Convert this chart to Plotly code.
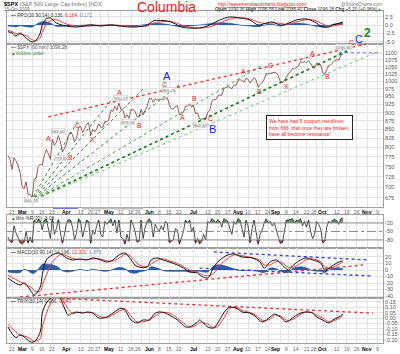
import plotly.graph_objects as go
import pandas as pd

# ---------------- trading calendar ----------------
HOLIDAYS = ['2009-04-10', '2009-05-25', '2009-07-03', '2009-09-07']
cal = [d.strftime('%Y-%m-%d') for d in pd.bdate_range('2009-02-19', '2009-11-13')
       if d.strftime('%Y-%m-%d') not in HOLIDAYS]
POS = {d: i - 2 for i, d in enumerate(cal)}


def xs(dates):
    return [POS[d] for d in dates]


# ---------------- data ----------------
price_close = [
    778.94, 770.05, 743.33, 773.14, 764.90, 752.83, 735.09,
    700.82, 696.33, 712.87, 682.55, 683.38, 676.53, 719.60, 721.36, 750.74, 756.55, 753.89, 778.12, 794.35,
    784.04, 768.54, 822.92, 806.12, 813.88, 832.86, 815.94, 787.53, 797.87,
    811.08, 834.38, 842.50, 835.48, 815.55, 825.16, 856.56, 858.73, 841.50, 852.06, 865.30, 869.60, 832.39,
    850.08, 843.55, 851.92, 866.23, 857.51, 855.16, 873.64, 872.81,
    877.52, 907.24, 903.80, 919.53, 907.39, 929.23, 909.24, 908.35, 883.92, 893.07, 882.88, 909.71, 908.13,
    903.47, 888.33, 887.00, 910.33, 893.06, 906.83, 919.14,
    942.87, 944.74, 931.76, 942.46, 940.09, 939.14, 942.43, 939.15, 944.89, 946.21, 923.72, 911.97, 910.71,
    918.37, 921.23, 893.04, 895.10, 900.94, 920.26, 918.90, 927.23, 919.32,
    923.33, 896.42, 898.72, 881.03, 879.56, 882.68, 879.13, 901.05, 905.84, 932.68, 940.74, 940.38, 951.13,
    954.58, 954.07, 976.29, 979.26, 982.18, 979.62, 975.15, 986.75, 987.48,
    1002.63, 1005.65, 1002.72, 997.08, 1010.48, 1007.10, 994.35, 1005.81, 1012.73, 1004.09, 979.73, 989.67,
    996.46, 1007.37, 1026.13, 1025.57, 1028.00, 1028.12, 1030.98, 1028.93, 1020.62,
    998.04, 994.75, 1003.24, 1016.40, 1025.39, 1033.37, 1044.14, 1042.73, 1049.34, 1052.63, 1068.76, 1065.49,
    1068.30, 1064.66, 1071.66, 1060.87, 1050.78, 1044.38, 1062.98, 1060.61, 1057.08,
    1029.85, 1025.21, 1040.46, 1054.72, 1057.58, 1065.48, 1071.49, 1076.19, 1073.19, 1092.02, 1096.28,
]

wm_r = [
    -70, -85, -90, -30, -55, -75, -90,
    -95, -88, -50, -92, -70, -90, -10, -20, -8, -12, -45, -10, -5, -40, -75, -5, -60, -40, -8, -55, -92, -60,
    -20, -8, -10, -35, -80, -55, -5, -15, -70, -40, -10, -15, -92, -45, -60, -30, -10, -60, -70, -15, -25,
    -15, -5, -30, -10, -55, -10, -70, -75, -95, -60, -85, -10, -25, -50, -88, -85, -10, -75, -35, -15,
    -5, -15, -70, -25, -40, -50, -30, -45, -15, -20, -90, -85, -80, -40, -45, -95, -75, -50, -10, -20, -10, -50,
    -35, -92, -75, -95, -85, -60, -80, -15, -20, -5, -10, -20, -8, -15, -35, -5, -10, -15, -40, -60, -15, -25,
    -5, -10, -40, -70, -10, -30, -90, -40, -10, -55, -95, -60, -45, -20, -5, -20, -15, -30, -20, -45, -70,
    -92, -90, -45, -10, -10, -8, -5, -20, -10, -12, -5, -30, -15, -35, -10, -50, -75, -60, -15, -25, -40,
    -90, -85, -35, -15, -20, -10, -8, -12, -25, -5, -3,
]

ppo_dates = ['2009-02-19', '2009-02-23', '2009-02-25', '2009-02-27', '2009-03-04', '2009-03-09', '2009-03-11',
             '2009-03-13', '2009-03-16', '2009-03-18', '2009-03-20', '2009-03-25', '2009-04-01', '2009-04-08',
             '2009-04-20', '2009-04-27', '2009-05-04', '2009-05-08', '2009-05-20', '2009-05-29', '2009-06-03',
             '2009-06-12', '2009-06-17', '2009-06-23', '2009-06-29', '2009-07-07', '2009-07-14', '2009-07-21',
             '2009-07-28', '2009-08-04', '2009-08-11', '2009-08-17', '2009-08-21', '2009-08-26', '2009-09-01',
             '2009-09-04', '2009-09-14', '2009-09-21', '2009-09-25', '2009-10-01', '2009-10-06', '2009-10-08',
             '2009-10-15']
ppo_line = [-2.0, -2.4, -3.3, -2.4, -3.9, -5.1, -4.5, -2.4, 0.0, 1.8, 2.1, 0.6, -0.3, -0.6, 0.0, -0.3, 0.0,
            -0.3, -0.6, 0.0, 1.2, 1.2, 0.6, -0.6, -0.9, -0.9, 0.0, 1.5, 2.4, 2.1, 1.5, 0.0, 0.6, 0.9, 0.0, 0.3,
            1.5, 1.8, 0.9, -0.6, -0.6, 0.0, 0.9]
ppo_signal = [-1.5, -2.0, -2.6, -2.8, -3.2, -4.4, -4.7, -3.9, -2.2, 0.2, 1.3, 1.6, 0.3, -0.3, -0.3, -0.1, -0.1,
              -0.1, -0.4, -0.3, 0.5, 1.1, 0.9, 0.0, -0.6, -0.9, -0.6, 0.6, 1.8, 2.2, 1.8, 0.9, 0.4, 0.6, 0.5,
              0.2, 0.9, 1.6, 1.4, 0.3, -0.4, -0.3, 0.3]
ppo_hist = [-0.3, -0.4, -0.6, -0.2, -0.5, -0.6, 0.2, 0.8, 1.0, 1.0, 0.6, -0.4, -0.3, -0.2, 0.1, -0.1, 0.1, -0.1,
            -0.2, 0.2, 0.5, 0.2, -0.2, -0.5, -0.3, 0.0, 0.4, 0.7, 0.5, 0.0, -0.3, -0.5, 0.1, 0.2, -0.3, 0.1,
            0.5, 0.3, -0.3, -0.6, -0.2, 0.2, 0.5]

macd_dates = ['2009-02-19', '2009-02-27', '2009-03-03', '2009-03-09', '2009-03-10', '2009-03-13', '2009-03-16',
              '2009-03-18', '2009-03-23', '2009-03-26', '2009-03-30', '2009-04-01', '2009-04-06', '2009-04-13',
              '2009-04-16', '2009-04-21', '2009-04-27', '2009-04-30', '2009-05-05', '2009-05-08', '2009-05-13',
              '2009-05-15', '2009-05-20', '2009-05-22', '2009-05-29', '2009-06-02', '2009-06-05', '2009-06-10',
              '2009-06-15', '2009-06-19', '2009-06-24', '2009-06-29', '2009-07-06', '2009-07-07', '2009-07-13',
              '2009-07-16', '2009-07-21', '2009-07-27', '2009-07-30', '2009-08-05', '2009-08-12', '2009-08-18',
              '2009-08-20', '2009-08-25', '2009-08-28', '2009-09-02', '2009-09-08', '2009-09-10', '2009-09-16',
              '2009-09-21', '2009-09-24', '2009-09-30', '2009-10-02', '2009-10-07', '2009-10-12', '2009-10-15']
macd_line = [-12.3, -23, -20, -35, -38.5, -26, -7.7, 15.4, 23, 26, 23, 18.5, 15.4, 17, 15.4, 18.5, 15.4, 12.3,
             15.4, 23, 26, 20, 7.7, 4.6, 4.6, 15.4, 18.5, 15.4, 12.3, 7.7, 3, -3, -4.6, -7.7, -12.3, 4.6, 15.4,
             23, 24.6, 20, 18.5, 12.3, 3, 12.3, 15.4, 7.7, 0, 6.2, 15.4, 18.5, 15.4, 10.8, 0, 4.6, 10.8, 14.2]
macd_signal = [-8, -18, -21, -28, -32, -33, -24, -8, 12, 22, 24, 22, 18, 16, 16, 17, 17, 14, 14, 18, 24, 23, 14,
               8, 5, 9, 15, 17, 14, 10, 5, 0, -3, -5, -9, -5, 7, 18, 23, 22, 19, 15, 8, 8, 13, 11, 4, 4, 10, 16,
               17, 13, 5, 3, 7, 12.3]
macd_hist = [-3, -4, 1, -5, -5, 5, 9, 9, 8, 4, -1, -3, -2, 1, -1, 1, -1, -2, 1, 4, 2, -3, -5, -3, 0, 5, 3, -1,
             -2, -2, -2, -3, -2, -2, -3, 6, 8, 5, 2, -1, 0, -3, -4, 3, 2, -3, -4, 2, 5, 3, -1, -2, -4, 2, 3, 1.9]

trix_dates = ['2009-02-19', '2009-02-25', '2009-02-27', '2009-03-03', '2009-03-06', '2009-03-10', '2009-03-13',
              '2009-03-16', '2009-03-18', '2009-03-20', '2009-03-24', '2009-03-27', '2009-03-30', '2009-04-02',
              '2009-04-06', '2009-04-08', '2009-04-14', '2009-04-16', '2009-04-21', '2009-04-24', '2009-04-30',
              '2009-05-05', '2009-05-11', '2009-05-13', '2009-05-18', '2009-05-21', '2009-05-27', '2009-06-01',
              '2009-06-04', '2009-06-09', '2009-06-15', '2009-06-19', '2009-06-25', '2009-06-29', '2009-07-06',
              '2009-07-07', '2009-07-13', '2009-07-16', '2009-07-20', '2009-07-24', '2009-07-28', '2009-08-03',
              '2009-08-05', '2009-08-11', '2009-08-14', '2009-08-19', '2009-08-25', '2009-08-27', '2009-09-01',
              '2009-09-04', '2009-09-10', '2009-09-15', '2009-09-18', '2009-09-24', '2009-09-28', '2009-10-01',
              '2009-10-06', '2009-10-08', '2009-10-13', '2009-10-15']
trix_line = [-0.082, -0.18, -0.155, -0.173, -0.218, -0.218, -0.127, 0.045, 0.136, 0.18,
             0.2, 0.18, 0.136, 0.027, 0.045, 0.055, 0.045, 0.055, 0.045, 0.0,
             0.009, 0.045, 0.09, 0.073, -0.018, -0.045, -0.018, -0.018, 0.045, 0.055,
             0.027, -0.018, -0.082, -0.082, -0.036, -0.018, -0.082, -0.091, -0.045, 0.073,
             0.1, 0.082, 0.055, 0.045, 0.009, -0.036, 0.009, 0.036, 0.009, -0.036,
             0.0, 0.036, 0.055, 0.045, 0.009, -0.018, -0.045, -0.018, 0.009, 0.036]
trix_signal = [-0.06, -0.13, -0.16, -0.165, -0.19, -0.215, -0.19, -0.09, 0.04, 0.13,
               0.19, 0.195, 0.165, 0.08, 0.04, 0.05, 0.052, 0.05, 0.05, 0.02,
               0.004, 0.03, 0.07, 0.085, 0.02, -0.035, -0.035, -0.02, 0.02, 0.05,
               0.045, 0.0, -0.06, -0.085, -0.06, -0.04, -0.055, -0.09, -0.075, 0.03,
               0.09, 0.095, 0.07, 0.05, 0.025, -0.02, -0.01, 0.025, 0.02, -0.02,
               -0.015, 0.02, 0.05, 0.05, 0.025, 0.0, -0.035, -0.03, -0.005, 0.02]

# trendlines (date, value) pairs
fan_start = ('2009-03-06', 666.79)
fan_end_dates = ['2009-04-09', '2009-05-05', '2009-05-27', '2009-06-23', '2009-08-19', '2009-10-20', '2009-11-09']
fan_end_prices = [878, 945, 974, 994, 1056, 1111, 1104]
red_trend = [('2009-03-19', 887), ('2009-11-04', 1138)]
blue_level = [('2009-10-13', 1101), ('2009-11-10', 1101)]
macd_red_trend = [('2009-02-27', -41.5), ('2009-10-29', 7.7)]
macd_blue_top = [('2009-07-16', 27.7), ('2009-11-03', 15.4)]
macd_blue_low = [('2009-07-07', 3.0), ('2009-11-04', -9.2)]
trix_red_trend = [('2009-03-27', 0.18), ('2009-11-05', 0.045)]

tick_dates = ['2009-02-23', '2009-03-02', '2009-03-09', '2009-03-16', '2009-03-23', '2009-04-01', '2009-04-13',
              '2009-04-20', '2009-04-27', '2009-05-01', '2009-05-11', '2009-05-18', '2009-05-26', '2009-06-01',
              '2009-06-08', '2009-06-15', '2009-06-22', '2009-07-01', '2009-07-13', '2009-07-20', '2009-07-27',
              '2009-08-03', '2009-08-10', '2009-08-17', '2009-08-24', '2009-09-01', '2009-09-08', '2009-09-14',
              '2009-09-21', '2009-09-28', '2009-10-01', '2009-10-12', '2009-10-19', '2009-10-26', '2009-11-02',
              '2009-11-09']
tick_labels = ['23', 'Mar', '9', '16', '23', 'Apr', '13', '20', '27', 'May', '11', '18', '26', 'Jun', '8', '15',
               '22', 'Jul', '13', '20', '27', 'Aug', '10', '17', '24', 'Sep', '8', '14', '21', '28', 'Oct', '12',
               '19', '26', 'Nov', '9']
price_ticks = [675, 700, 725, 750, 775, 800, 825, 850, 875, 900, 925, 950, 975, 1000, 1025, 1050, 1075, 1100]

# ---------------- figure ----------------
W, H = 400, 354
FONT = 'Liberation Sans, Arial, sans-serif'


def P(px, py):
    return px / W, 1 - py / H


XD = [7 / W, 383 / W]


def dom(top, bot):
    return [1 - bot / H, 1 - top / H]


fig = go.Figure()

# PPO panel
px_ = xs(ppo_dates)
fig.add_trace(go.Scatter(x=px_, y=ppo_hist, mode='lines', fill='tozeroy', line=dict(color='#1d4f94', width=0.6, shape='spline'),
                         fillcolor='#2b5fa8', xaxis='x', yaxis='y'))
fig.add_trace(go.Scatter(x=px_, y=ppo_signal, mode='lines', line=dict(color='#f03c3c', width=1, shape='spline'), xaxis='x', yaxis='y'))
fig.add_trace(go.Scatter(x=px_, y=ppo_line, mode='lines', line=dict(color='#111', width=1, shape='spline'), xaxis='x', yaxis='y'))

# Price panel
price_dates = cal[:len(price_close)]
fan_styles = [('#2e8b2e', 1), ('#2e8b2e', 1), ('#2e8b2e', 1), ('#2e8b2e', 1), ('#4fa84f', 1),
              ('#137a13', 1.6), ('#8fcf8f', 1.2)]
for d, p, (c, w) in zip(fan_end_dates, fan_end_prices, fan_styles):
    fig.add_trace(go.Scatter(x=xs([fan_start[0], d]), y=[fan_start[1], p], mode='lines',
                             line=dict(color=c, width=w, dash='dot'), xaxis='x2', yaxis='y2'))
fig.add_trace(go.Scatter(x=xs([d for d, _ in red_trend]), y=[v for _, v in red_trend], mode='lines',
                         line=dict(color='#f03030', width=1.3, dash='dot'), xaxis='x2', yaxis='y2'))
fig.add_trace(go.Scatter(x=xs([d for d, _ in blue_level]), y=[v for _, v in blue_level], mode='lines',
                         line=dict(color='#5b6fd6', width=1, dash='dot'), xaxis='x2', yaxis='y2'))
fig.add_trace(go.Scatter(x=xs(price_dates), y=price_close, mode='lines',
                         line=dict(color='#7a3535', width=0.8), xaxis='x2', yaxis='y2'))

# Williams %R panel
wm_dates = cal[:len(wm_r)]
wx = xs(wm_dates)
fig.add_trace(go.Scatter(x=wx, y=[-20] * len(wx), mode='lines', line=dict(width=0), xaxis='x3', yaxis='y3'))
fig.add_trace(go.Scatter(x=wx, y=[max(v, -20) for v in wm_r], mode='lines', fill='tonexty', fillcolor='#5e9a5e',
                         line=dict(width=0), xaxis='x3', yaxis='y3'))
fig.add_trace(go.Scatter(x=wx, y=[-80] * len(wx), mode='lines', line=dict(width=0), xaxis='x3', yaxis='y3'))
fig.add_trace(go.Scatter(x=wx, y=[min(v, -80) for v in wm_r], mode='lines', fill='tonexty', fillcolor='#a85555',
                         line=dict(width=0), xaxis='x3', yaxis='y3'))
fig.add_trace(go.Scatter(x=wx, y=wm_r, mode='lines', line=dict(color='#222', width=0.8), xaxis='x3', yaxis='y3'))

# MACD panel
mx = xs(macd_dates)
fig.add_trace(go.Scatter(x=mx, y=macd_hist, mode='lines', fill='tozeroy', line=dict(color='#1d4f94', width=0.6, shape='spline'),
                         fillcolor='#2b5fa8', xaxis='x4', yaxis='y4'))
for tl, c in [(macd_red_trend, '#f03030'), (macd_blue_top, '#2a3ee0'), (macd_blue_low, '#2a3ee0')]:
    fig.add_trace(go.Scatter(x=xs([d for d, _ in tl]), y=[v for _, v in tl], mode='lines',
                             line=dict(color=c, width=1.3, dash='dot'), xaxis='x4', yaxis='y4'))
fig.add_trace(go.Scatter(x=mx, y=macd_signal, mode='lines', line=dict(color='#f03c3c', width=1, shape='spline'), xaxis='x4', yaxis='y4'))
fig.add_trace(go.Scatter(x=mx, y=macd_line, mode='lines', line=dict(color='#111', width=1, shape='spline'), xaxis='x4', yaxis='y4'))

# TRIX panel
tx = xs(trix_dates)
fig.add_trace(go.Scatter(x=xs([d for d, _ in trix_red_trend]), y=[v for _, v in trix_red_trend], mode='lines',
                         line=dict(color='#f03030', width=1.3, dash='dot'), xaxis='x5', yaxis='y5'))
fig.add_trace(go.Scatter(x=tx, y=trix_signal, mode='lines', line=dict(color='#f03c3c', width=1, shape='spline'), xaxis='x5', yaxis='y5'))
fig.add_trace(go.Scatter(x=tx, y=trix_line, mode='lines', line=dict(color='#111', width=1, shape='spline'), xaxis='x5', yaxis='y5'))

# ---------------- axes ----------------
tick_pos = xs(tick_dates)
XR = [-2.48, 183.9]
TF = dict(size=5.5, color='#555', family=FONT)


def xax(anchor):
    return dict(domain=XD, range=XR, anchor=anchor, tickvals=tick_pos, showticklabels=False,
                showgrid=True, gridcolor='#e4e4e4', gridwidth=1, zeroline=False,
                showline=True, mirror=True, linecolor='#a0a0a0', linewidth=1, ticks='', automargin=False)


def yax(anchor, d, rng, tv, tt, log=False):
    a = dict(domain=d, range=rng, anchor=anchor, side='right', tickvals=tv, ticktext=tt, showgrid=True,
             gridcolor='#e4e4e4', gridwidth=1, zeroline=False, showline=True, mirror=True, linecolor='#a0a0a0',
             linewidth=1, ticks='', tickfont=TF, automargin=False)
    if log:
        a['type'] = 'log'
    return a


ppo_tv = [2.5, 0, -2.5, -5]
macd_tv = [20, 10, 0, -10, -20, -30, -40]
trix_tv = [0.15, 0.10, 0.05, 0.0, -0.05, -0.10, -0.15, -0.20]

fig.update_layout(
    width=W, height=H, margin=dict(l=0, r=0, t=0, b=0), template='none',
    paper_bgcolor='white', plot_bgcolor='white', showlegend=False, font=dict(family=FONT),
    xaxis=xax('y'), xaxis2=xax('y2'), xaxis3=xax('y3'), xaxis4=xax('y4'), xaxis5=xax('y5'),
    yaxis=yax('x', dom(11, 44), [-5.7, 4.2], ppo_tv, ['%.1f' % v for v in ppo_tv]),
    yaxis2=yax('x2', dom(44, 207), [2.8161, 3.0546], price_ticks, [str(v) for v in price_ticks], log=True),
    yaxis3=yax('x3', dom(215, 248), [-108.5, 8.1], [-20, -50, -80], ['-20', '-50', '-80']),
    yaxis4=yax('x4', dom(248, 298), [-43, 33.8], macd_tv, [str(v) for v in macd_tv]),
    yaxis5=yax('x5', dom(298, 343), [-0.230, 0.184], trix_tv, ['%.2f' % v for v in trix_tv]),
)
fig.layout.yaxis3.showgrid = False

shapes = []
for lvl, dsh in [(-20, 'solid'), (-50, 'dashdot'), (-80, 'solid')]:
    shapes.append(dict(type='line', xref='paper', yref='y3', x0=XD[0], x1=XD[1], y0=lvl, y1=lvl,
                       line=dict(color='#8a8a8a', width=1, dash=dsh)))
# scrollbar decorations under the price panel
x0, y0 = P(53, 208.5); x1, _ = P(78, 208.5)
shapes.append(dict(type='line', xref='paper', yref='paper', x0=x0, x1=x1, y0=y0, y1=y0, line=dict(color='#6f7fe0', width=1)))
x0, y0 = P(82, 207.5); x1, y1 = P(143, 209.5)
shapes.append(dict(type='rect', xref='paper', yref='paper', x0=x0, x1=x1, y0=y0, y1=y1, fillcolor='#bdbdbd', line=dict(width=0)))
# shadow of the comment box
x0, y0 = P(269, 120); x1, y1 = P(353, 139)
shapes.append(dict(type='rect', xref='paper', yref='paper', x0=x0, x1=x1, y0=y0, y1=y1, fillcolor='#444', line=dict(width=0)))
fig.update_layout(shapes=shapes)

ann = []


def text(px, py, t, size=5.5, color='#333', xa='left', **kw):
    x, y = P(px, py)
    ann.append(dict(x=x, y=y, xref='paper', yref='paper', text=t, showarrow=False, xanchor=xa, yanchor='middle',
                    font=dict(size=size, color=color, family=FONT), **kw))


# date labels under the price panel and under the TRIX panel
for xref, py in [('x2', 212), ('x5', 349)]:
    for k, (pos, lab) in enumerate(zip(tick_pos, tick_labels)):
        bold = not lab.isdigit()
        crowded = k + 1 < len(tick_pos) and tick_pos[k + 1] - pos < 5
        ann.append(dict(x=pos, y=P(0, py)[1], xref=xref, yref='paper', showarrow=False,
                        xanchor='right' if crowded else 'center', xshift=1 if crowded else 0,
                        yanchor='middle', text=('<b>%s</b>' % lab) if bold else lab, borderpad=0,
                        font=dict(size=5, color='#000' if bold else '#666', family=FONT)))

# header
text(2, 4, "<b>$SPX</b> <span style='color:#777'>(S&P 500 Large Cap Index) INDX</span>", size=5.5, color='#000')
text(2, 9.5, "15-Oct-2009", size=4.6, color='#666')
text(166, 7.5, "Columbia", size=14, color='#ee1c1c', xa='center')
text(262, 4, "<u>http://wavetrendsandcharts.blogspot.com/</u>", size=4.8, color='#ee2020', xa='center')
text(384, 4, "@StockCharts.com", size=4.8, color='#777', xa='right')
text(384, 9.5, "<b>Open</b> 1090.36 <b>High</b> 1096.56 <b>Low</b> 1086.41 <b>Close</b> 1096.28 <b>Chg</b> +5.20 (+0.38%)<span style='color:#1a9a1a'>▲</span>",
     size=4.6, color='#333', xa='right')

# panel legends
text(9, 15, "<b>—</b> PPO(30,90,14) 0.336, <span style='color:#ee2020'>0.164,</span> <span style='color:#5b7fc8'>0.172</span>", size=4.8, color='#333')
text(9, 47.5, "<b>—</b> $SPX (60 min) 1096.28", size=4.8, color='#555')
text(9, 53, "<span style='color:#2a8a2a'>▲</span>Volume undef", size=4.6, color='#3a8a3a')
text(9, 218.5, "<span style='color:#2a8a2a'>▲</span>Wm %R(20) -3.08", size=4.8, color='#333')
text(9, 252.5, "<b>—</b> MACD(30,90,14) 14.196, <span style='color:#ee2020'>12.320,</span> <span style='color:#5b7fc8'>1.876</span>", size=4.8, color='#333')
text(9, 301.5, "<b>—</b> TRIX(30,14) 0.056, <span style='color:#ee2020'>0.043</span>", size=4.8, color='#333')

# wave labels
letters = [('A', '#ee2020', 7, 48, 138), ('B', '#ee2020', 7, 70, 157), ('C', '#ee2020', 7, 77, 125),
           ('X', '#ee2020', 7, 92, 139), ('A', '#ee2020', 7, 119, 93), ('B', '#ee2020', 7, 139, 125),
           ('A', '#1a1aff', 11, 167, 76), ('C', '#ee2020', 7, 164, 85), ('A', '#ee2020', 7, 182, 118),
           ('B', '#ee2020', 7, 194, 99), ('C', '#ee2020', 7, 210, 118.5), ('B', '#1a1aff', 11, 212, 128.5),
           ('A', '#ee2020', 7, 243, 71), ('B', '#ee2020', 7, 259, 91), ('C', '#ee2020', 7, 270, 65),
           ('X', '#ee2020', 7, 286, 86), ('A', '#ee2020', 7, 312, 53), ('B', '#ee2020', 7, 327, 77),
           ('C', '#ee2020', 7, 351, 42), ('C', '#1a1aff', 11, 359, 39), ('<b>2</b>', '#1a8a1a', 12, 367, 33)]
for t, c, s, x, y in letters:
    text(x, y, t, size=s, color=c, xa='center')

# small price labels
for t, x, y in [('666.79', 31, 200), ('842.60', 58, 131), ('779.81', 61, 158), ('930.17', 121, 98),
                ('878.94', 128, 122), ('956.23', 169, 90), ('869.32', 200, 125), ('1096.56', 343, 47)]:
    text(x, y, t, size=4.2, color='#777', xa='center', bgcolor='#f4f4f4', bordercolor='#c8c8c8', borderwidth=0.5,
         borderpad=0)

# comment box
text(309, 127.5, "We have had 6 support trendlines<br>from 666, that once they are broken,<br>have all become resistance!",
     size=5, color='#ee2020', xa='center', bgcolor='white', bordercolor='#222', borderwidth=1, borderpad=2, align='left')

fig.update_layout(annotations=ann)
fig.write_html("out.html")
